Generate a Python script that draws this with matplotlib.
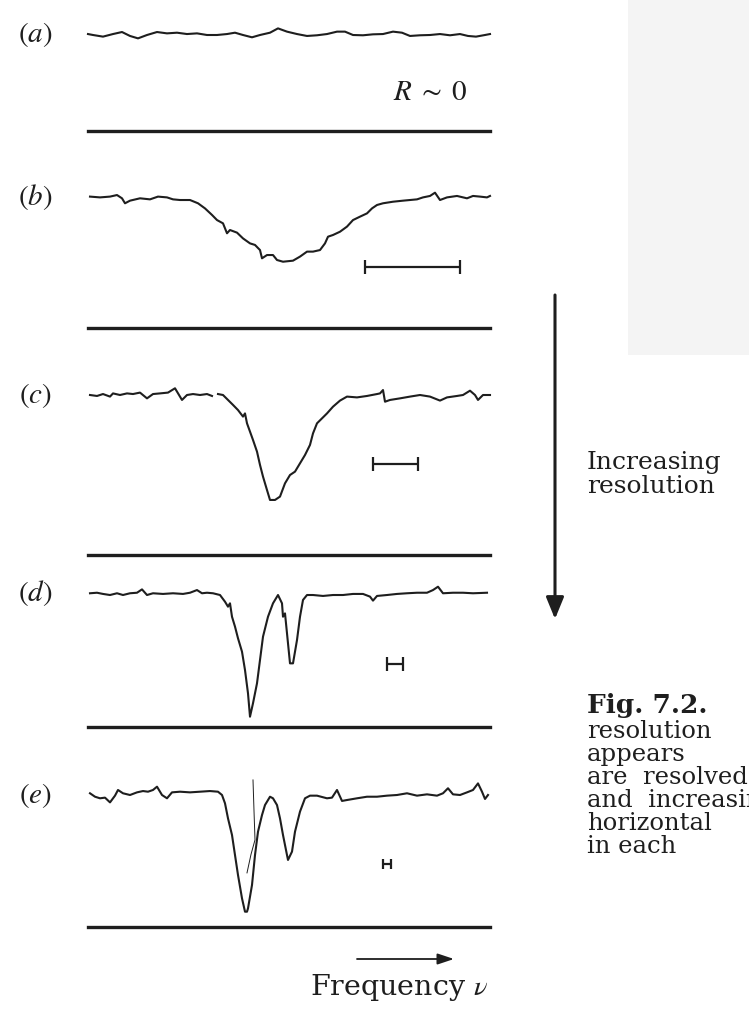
import numpy as np
import matplotlib
matplotlib.use("Agg")
import matplotlib.pyplot as plt
from matplotlib.patches import Rectangle

plt.rcParams["mathtext.fontset"] = "stix"
plt.rcParams["font.family"] = "DejaVu Serif"

W, H = 749, 1011
INK = "#1e1e1e"

# ---- scanned absorption profiles (frequency in arbitrary units, intensity / continuum)
freq_a = [0, 5, 15, 25, 34, 42, 50, 59, 69, 79, 89, 99, 109, 119, 129, 139, 147, 155, 164, 172,
          182, 190, 199, 209, 219, 229, 239, 249, 257, 265, 275, 285, 295, 305, 314, 322, 332, 342,
          352, 362, 372, 380, 388, 397, 402]
int_a = [1.010, 1.000, 0.983, 1.010, 1.031, 0.990, 0.965, 1.000, 1.031, 1.017, 1.024, 1.010, 1.017,
         1.000, 1.000, 1.010, 1.024, 1.000, 0.976, 1.000, 1.024, 1.069, 1.035, 1.010, 0.990, 0.997,
         1.010, 1.035, 1.035, 1.000, 0.997, 1.007, 1.010, 1.035, 1.024, 0.990, 0.997, 1.000, 1.010,
         0.997, 1.010, 0.990, 0.983, 1.000, 1.010]

freq_b = [2, 12, 22, 29, 34, 37, 42, 52, 62, 70, 79, 85, 92, 102, 110, 117, 124, 129, 135, 139,
          142, 149, 155, 162, 167, 172, 174, 179, 185, 189, 195, 205, 212, 219, 225, 232, 237, 240,
          245, 252, 259, 265, 272, 279, 284, 289, 295, 305, 315, 322, 329, 335, 342, 347, 352, 359,
          369, 379, 385, 392, 399, 402]
int_b = [1.003, 0.997, 1.003, 1.015, 0.990, 0.952, 0.972, 0.990, 0.982, 1.003, 0.997, 0.982, 0.977,
         0.977, 0.952, 0.913, 0.863, 0.824, 0.799, 0.723, 0.748, 0.728, 0.684, 0.646, 0.634, 0.595,
         0.532, 0.557, 0.557, 0.519, 0.506, 0.514, 0.545, 0.583, 0.583, 0.595, 0.646, 0.697, 0.710,
         0.735, 0.774, 0.824, 0.850, 0.875, 0.913, 0.939, 0.952, 0.964, 0.972, 0.977, 0.982, 0.997,
         1.008, 1.033, 0.977, 0.997, 1.008, 0.990, 1.008, 1.003, 0.997, 1.008]

# the recorder trace of (c) has a short dropout before the line
freq_c = [2, 9, 15, 22, 25, 32, 39, 45, 52, 59, 65, 72, 80, 87, 94, 99, 105, 112, 119, 124, np.nan,
          130, 135, 140, 145, 150, 155, 157, 159, 162, 165, 169, 172, 175, 179, 182, 187, 192, 197,
          202, 207, 212, 217, 222, 225, 229, 234, 239, 245, 252, 259, 269, 279, 289, 292, 295, 297,
          302, 312, 322, 332, 342, 352, 359, 369, 375, 382, 387, 390, 395, 402]
int_c = [1.000, 0.994, 1.006, 0.990, 1.010, 1.000, 1.010, 1.006, 1.015, 0.979, 1.006, 1.010, 1.015,
         1.042, 0.969, 1.000, 1.006, 1.000, 1.006, 0.994, np.nan,
         1.006, 1.000, 0.969, 0.938, 0.906, 0.865, 0.885, 0.823, 0.771, 0.719, 0.646, 0.563, 0.490,
         0.406, 0.344, 0.344, 0.365, 0.448, 0.500, 0.521, 0.573, 0.625, 0.688, 0.760, 0.823, 0.854,
         0.885, 0.927, 0.965, 0.990, 0.985, 0.994, 1.006, 1.010, 1.031, 0.958, 0.969, 0.979, 0.990,
         1.000, 0.990, 0.965, 0.985, 0.994, 1.000, 1.027, 1.000, 0.969, 1.000, 1.000]

freq_d = [2, 9, 15, 22, 29, 35, 42, 49, 54, 59, 65, 75, 85, 95, 102, 109, 114, 119, 125, 132,
          137, 140, 142, 144, 147, 150, 154, 157, 160, 162, 165, 169, 172, 175, 180, 185, 190, 194,
          195, 197, 199, 202, 205, 209, 212, 215, 219, 225, 235, 245, 255, 265, 275, 282, 285, 289,
          299, 309, 319, 329, 339, 345, 350, 355, 365, 375, 385, 399]
int_d = [0.998, 1.002, 0.993, 0.985, 0.998, 0.985, 0.998, 1.002, 1.027, 0.985, 0.998, 0.993, 0.998,
         0.993, 1.002, 1.022, 0.998, 1.002, 0.998, 0.985, 0.935, 0.898, 0.923, 0.823, 0.749, 0.662,
         0.562, 0.425, 0.251, 0.077, 0.177, 0.326, 0.500, 0.674, 0.823, 0.923, 0.985, 0.923, 0.823,
         0.848, 0.699, 0.475, 0.475, 0.649, 0.823, 0.948, 0.985, 0.985, 0.978, 0.985, 0.985, 0.993,
         0.993, 0.973, 0.943, 0.978, 0.985, 0.993, 0.998, 1.002, 1.002, 1.022, 1.047, 0.998, 1.002,
         1.002, 0.998, 1.002]

freq_e = [2, 7, 12, 17, 22, 27, 30, 35, 42, 49, 55, 60, 65, 69, 74, 79, 84, 92, 102, 112,
          122, 130, 134, 137, 140, 144, 147, 150, 154, 157, 159, 160, 164, 167, 170, 174, 177, 182,
          185, 189, 192, 195, 199, 200, 204, 207, 212, 217, 222, 229, 239, 244, 249, 254, 259, 269,
          279, 289, 299, 309, 319, 329, 339, 349, 355, 360, 365, 372, 379, 385, 390, 394, 397, 400]
int_e = [1.013, 0.987, 0.975, 0.980, 0.944, 0.995, 1.038, 1.013, 1.000, 1.020, 1.030, 1.025, 1.038,
         1.063, 1.000, 0.975, 1.020, 1.025, 1.020, 1.025, 1.030, 1.025, 1.000, 0.937, 0.823, 0.697,
         0.545, 0.394, 0.217, 0.116, 0.116, 0.141, 0.318, 0.545, 0.722, 0.848, 0.924, 0.987, 0.975,
         0.924, 0.823, 0.697, 0.545, 0.508, 0.571, 0.722, 0.874, 0.975, 0.995, 0.995, 0.975, 0.980,
         1.038, 0.955, 0.962, 0.975, 0.987, 0.987, 0.995, 1.000, 1.013, 0.995, 1.005, 0.995, 1.013,
         1.051, 1.005, 1.000, 1.020, 1.038, 1.088, 1.025, 0.970, 1.000]

# fitted component drawn through the strong line of (e)
fit_freq_e = [165, 166, 167, 163, 159]
fit_int_e = [1.114, 0.880, 0.660, 0.550, 0.410]

# instrumental resolution bars: (low, high, level)
res_b = (277, 372, 0.463)
res_c = (285, 330, 0.569)
res_d = (299, 315, 0.470)
res_e = (295, 303, 0.480)

# label, baseline row, zero row (pixels), data, resolution bar, cap size
panels = [
    ("a", 35, 131, freq_a, int_a, None, 0),
    ("b", 197, 328, freq_b, int_b, res_b, 5),
    ("c", 395, 555, freq_c, int_c, res_c, 5),
    ("d", 593, 727, freq_d, int_d, res_d, 5),
    ("e", 795, 927, freq_e, int_e, res_e, 3.5),
]


def panel_axes(fig, base_px, zero_px):
    left, right = 88, 490
    ax = fig.add_axes([left / W, 1 - zero_px / H, (right - left) / W, (zero_px - base_px) / H])
    ax.set_xlim(0, 402)
    ax.set_ylim(0, 1)
    ax.set_axis_off()
    return ax


fig = plt.figure(figsize=(W / 100, H / 100), dpi=100, facecolor="white")

# page furniture in pixel coordinates
page = fig.add_axes([0, 0, 1, 1])
page.set_xlim(0, W)
page.set_ylim(H, 0)
page.set_axis_off()
page.add_patch(Rectangle((628, 0), 121, 355, color="#f4f4f4", lw=0))

page.annotate("", xy=(555, 619), xytext=(555, 295),
              arrowprops=dict(arrowstyle="-|>,head_length=1.1,head_width=0.45", lw=2.2,
                              color=INK, mutation_scale=12, shrinkA=0, shrinkB=0))
page.text(587, 469, "Increasing", fontsize=18, color=INK, va="baseline", ha="left")
page.text(587, 493, "resolution", fontsize=18, color=INK, va="baseline", ha="left")

# caption runs on past the right edge of the page
page.text(587, 713, "Fig. 7.2.", fontsize=19, fontweight="bold", color=INK, va="baseline")
caption = ["resolution", "appears", "are  resolved", "and  increasing", "horizontal", "in each"]
for i, line in enumerate(caption):
    page.text(587, 738 + i * 23.0, line, fontsize=17.5, color=INK, va="baseline")

page.text(467, 100, r"$R\;\sim\;0$", fontsize=21, color=INK, ha="right", va="baseline")

page.annotate("", xy=(454, 959), xytext=(357, 959),
              arrowprops=dict(arrowstyle="-|>,head_length=0.9,head_width=0.3", lw=1.3,
                              color=INK, mutation_scale=11, shrinkA=0, shrinkB=0))
page.text(488, 995, r"Frequency $\nu$", fontsize=20.5, color=INK, ha="right", va="baseline")

for label, base_px, zero_px, freq, inten, res, cap in panels:
    ax = panel_axes(fig, base_px, zero_px)
    ax.plot(freq, inten, color=INK, lw=1.5, clip_on=False)
    ax.axhline(0, color=INK, lw=2.4, clip_on=False)
    if res is not None:
        lo, hi, level = res
        ax.errorbar((lo + hi) / 2, level, xerr=(hi - lo) / 2, fmt="none", ecolor=INK,
                    elinewidth=1.6, capsize=cap, capthick=1.6, clip_on=False)
    if label == "e":
        ax.plot(fit_freq_e, fit_int_e, color=INK, lw=0.7, clip_on=False)
    ax.text(-53, 1.0, rf"$({label})$", fontsize=21, color=INK, ha="center", va="center")

fig.savefig("out.png", dpi=100)
